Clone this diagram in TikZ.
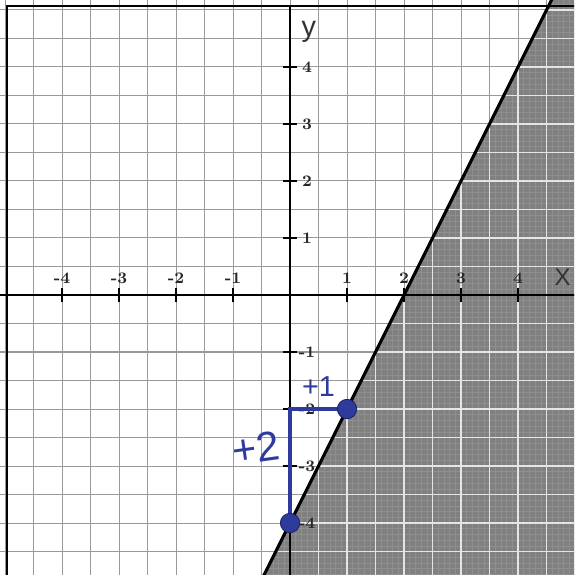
\documentclass[tikz,border=0pt]{standalone}
\usepackage{fontspec}
\setsansfont{Liberation Sans}
\usetikzlibrary{positioning}
\definecolor{ink}{HTML}{2E3A9C}

\begin{document}
\begin{tikzpicture}[x=1cm,y=1cm,
    gridline/.style={gray!80,line width=0.5pt},
    ticklabel/.style={font=\footnotesize\bfseries,inner sep=1pt,text=black!85},
    pen/.style={ink,line width=1.6pt},
    dot/.style={circle,fill=ink,draw=ink!60!black,inner sep=0pt,minimum size=3.4mm}]
    \useasboundingbox (-5.088,-4.912) rectangle (4.982,5.175);
    \clip (-5.088,-4.912) rectangle (4.982,5.175);
    \coordinate (lo) at (-0.6,-5.2);
    \coordinate (hi) at (4.7,5.4);
    % grid
    \draw[gridline] (-5.5,-5.5) grid[step=0.5] (5.5,5.5);
    % shaded half-plane
    \fill[black!50] (lo) -- (hi) -- (5.3,5.4) -- (5.3,-5.2) -- cycle;
    \begin{scope}
      \clip (lo) -- (hi) -- (5.3,5.4) -- (5.3,-5.2) -- cycle;
      \draw[black!44,line width=0.3pt] (-1,-5.5) grid[step=0.1] (5.5,5.5);
      \draw[white!80!gray,line width=0.8pt] (-1,-5.5) grid[step=0.5] (5.5,5.5);
    \end{scope}
    % frame and axes
    \draw[line width=0.8pt] (-4.965,-6) -- (-4.965,5.07) -- (6,5.07);
    \draw[line width=0.9pt] (-5.2,0) -- (5.2,0);
    \draw[line width=0.9pt] (0,-5.2) -- (0,5.07);
    \foreach \x [count=\i] in {-4,-3,-2,-1,1,2,3,4} {
      \draw[line width=0.7pt] (\x,-0.13) -- (\x,0.13);
      \node[ticklabel] (xl\i) at (\x,0.3) {\x};
    }
    \foreach \y [count=\i] in {-4,-3,-2,-1,1,2,3,4} {
      \draw[line width=0.7pt] (-0.13,\y) -- (0.13,\y);
      \node[ticklabel] (yl\i) at (0.3,\y) {\y};
    }
    \node[font=\sffamily\Large,text=black!80] (ylab) at (0.33,4.62) {y};
    \node[font=\sffamily\large,text=black!80] (xlab) at (4.78,0.32) {X};
    % boundary line
    \draw[line width=1.6pt] (lo) -- (hi);
    % slope steps
    \coordinate (p1) at (0,-4);
    \coordinate (p2) at (1,-2);
    \coordinate (corner) at (0,-2);
    \draw[pen] (p1) -- (corner) -- (p2);
    \node[dot] (d1) at (p1) {};
    \node[dot] (d2) at (p2) {};
    \node[text=ink,font=\sffamily\Large] (rise) at (0.5,-1.6) {+1};
    \node[text=ink,font=\sffamily\huge,rotate=8] (run) at (-0.6,-2.68) {+2};
  \end{tikzpicture}
\end{document}
